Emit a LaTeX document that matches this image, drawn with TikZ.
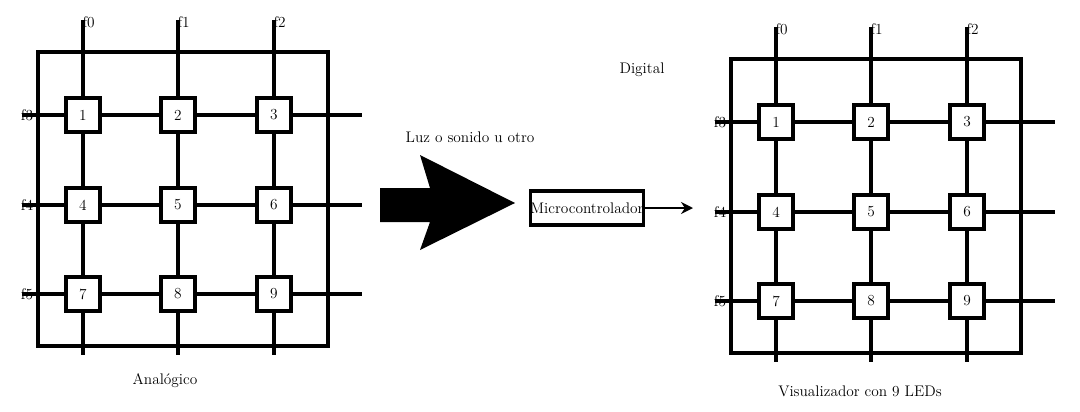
\documentclass[tikz,border=0pt]{standalone}
\usetikzlibrary{arrows.meta}
\tikzset{
  every node/.style={font=\fontsize{11.5}{13}\selectfont},
  wire/.style={line width=2.8pt},
  led/.style={draw, line width=2.8pt, fill=white, minimum size=26pt, inner sep=0pt},
  lbl/.style={inner sep=1pt}
}
\newcommand{\ledgrid}[3]{% shift x, shift y, prefix
\begin{scope}[shift={(#1,#2)}]
\draw [wire] (38,52) rectangle (328,346);
\foreach \c/\x in {0/83,1/178,2/274} {
  \draw [wire] (\x,20) -- (\x,355);
  \node [lbl, anchor=west] (#3col\c) at (\x-2,22) {f\c};
}
\foreach \r/\y/\n in {3/115/0,4/205/3,5/294/6} {
  \draw [wire] (22,\y) -- (362,\y);
  \node [lbl] (#3row\r) at (27,\y) {f\r};
  \foreach \c/\x in {1/83,2/178,3/274} {
    \pgfmathtruncatemacro{\k}{\n+\c}
    \node [led] (#3led\k) at (\x,\y) {\k};
  }
}
\end{scope}}
\begin{document}
\begin{tikzpicture}[x=0.75pt,y=-0.75pt]
\useasboundingbox (0,0) rectangle (1080,411);
\ledgrid{0}{0}{a}
\ledgrid{693}{7}{b}
% senal de entrada
\fill (380,188) -- (430,188) -- (420,155) -- (515,203) -- (420,250) -- (430,222) -- (380,222) -- cycle;
\node [draw, line width=2.8pt, minimum width=82pt, minimum height=26pt, inner sep=0pt] (mcu) at (587,208) {Microcontrolador};
\coordinate (out) at (693,208);
\draw [line width=2pt, -{Stealth[length=9pt,width=9pt]}] (mcu.east) -- (out);
\node (luz) at (470,137) {Luz o sonido u otro};
\node (dig) at (642,70) {Digital};
\node (ana) at (165,381) {Analógico};
\node (vis) at (860,391) {Visualizador con 9 LEDs};
\end{tikzpicture}
\end{document}
